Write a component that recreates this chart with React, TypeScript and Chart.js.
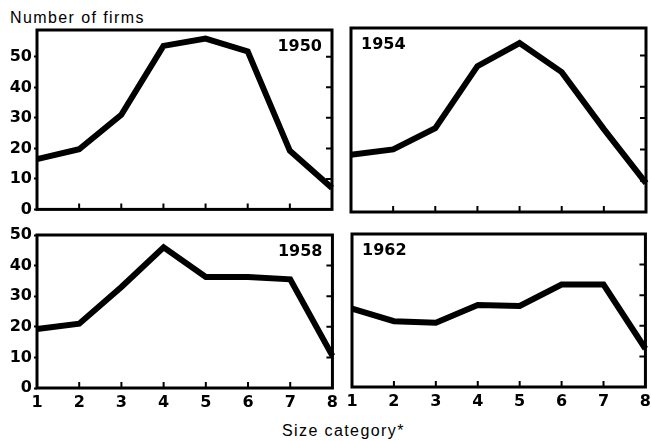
import React, { useEffect, useRef } from 'react';
import { Chart, registerables } from 'chart.js';

Chart.register(...registerables);

// Number of firms per size category, by census year
const sizeCategories = ['1', '2', '3', '4', '5', '6', '7', '8'];
const firms1950 = [16.5, 19.7, 31, 53.6, 56, 51.8, 19.2, 7];
const firms1954 = [18.3, 20, 26.8, 46.6, 54, 44.7, 26.5, 9.2];
const firms1958 = [19.3, 21, 33, 46, 36.3, 36.3, 35.5, 10.5];
const firms1962 = [25.6, 21.5, 21, 26.8, 26.5, 33.5, 33.5, 12.5];
const yTickValues = [0, 10, 20, 30, 40, 50];
const yAxisTitle = 'Number of firms';
const xAxisTitle = 'Size category*';

const TICK_FONT = { family: '"DejaVu Sans", sans-serif', size: 16, weight: 'bold' as const };
const TEXT_FONT = '"Liberation Sans", Arial, Helvetica, sans-serif';

type PanelSpec = {
  year: string;
  values: number[];
  left: number;
  top: number;
  right: number;
  bottom: number;
  yMax: number;
  showYLabels: boolean;
  showXLabels: boolean;
  yearSide: 'left' | 'right';
};

const panels: PanelSpec[] = [
  { year: '1950', values: firms1950, left: 37, top: 30, right: 332, bottom: 213, yMax: 58.8, showYLabels: true, showXLabels: false, yearSide: 'right' },
  { year: '1954', values: firms1954, left: 351, top: 28, right: 646, bottom: 212, yMax: 58.8, showYLabels: false, showXLabels: false, yearSide: 'left' },
  { year: '1958', values: firms1958, left: 37, top: 235, right: 333, bottom: 388, yMax: 50, showYLabels: true, showXLabels: true, yearSide: 'right' },
  { year: '1962', values: firms1962, left: 352, top: 234, right: 646, bottom: 387, yMax: 50, showYLabels: false, showXLabels: true, yearSide: 'left' },
];

const PAD_L = 37;
const PAD_T = 14;
const PAD_R = 10;
const PAD_B_PLAIN = 8;
const PAD_B_LABELS = 32;

function Panel({ spec }: { spec: PanelSpec }) {
  const ref = useRef<HTMLCanvasElement | null>(null);
  const padB = spec.showXLabels ? PAD_B_LABELS : PAD_B_PLAIN;
  const width = spec.right - spec.left + PAD_L + PAD_R;
  const height = spec.bottom - spec.top + PAD_T + padB;

  useEffect(() => {
    if (!ref.current) return;

    const framePlugin = {
      id: 'panelFrame',
      afterDraw(chart: any) {
        const { ctx, chartArea, scales } = chart;
        const { left, top, right, bottom } = chartArea;
        ctx.save();
        ctx.strokeStyle = '#000';
        ctx.lineWidth = 3;
        ctx.strokeRect(left, top, right - left, bottom - top);

        // inward tick marks on the right and bottom edges
        ctx.lineWidth = 2;
        ctx.beginPath();
        yTickValues.slice(1).forEach((v) => {
          const py = scales.y.getPixelForValue(v);
          ctx.moveTo(right, py);
          ctx.lineTo(right - 6, py);
        });
        sizeCategories.slice(1, -1).forEach((_, i) => {
          const px = scales.x.getPixelForValue(i + 1);
          ctx.moveTo(px, bottom);
          ctx.lineTo(px, bottom - 6);
        });
        ctx.stroke();

        // year caption
        ctx.fillStyle = '#000';
        ctx.font = `bold 16px ${TICK_FONT.family}`;
        ctx.textBaseline = 'middle';
        ctx.textAlign = spec.yearSide;
        ctx.fillText(spec.year, spec.yearSide === 'right' ? right - 10 : left + 10, top + 17);
        ctx.restore();
      },
    };

    const chart = new Chart(ref.current, {
      type: 'line',
      data: {
        labels: sizeCategories,
        datasets: [
          {
            data: spec.values,
            borderColor: '#000',
            borderWidth: 6,
            pointRadius: 0,
            tension: 0,
            borderJoinStyle: 'miter',
            borderCapStyle: 'butt',
          },
        ],
      },
      options: {
        animation: false,
        responsive: false,
        devicePixelRatio: 1,
        events: [],
        layout: {
          padding: {
            left: spec.showYLabels ? 0 : PAD_L,
            top: PAD_T,
            right: PAD_R,
            bottom: spec.showXLabels ? 0 : PAD_B_PLAIN,
          },
        },
        plugins: {
          legend: { display: false },
          tooltip: { enabled: false },
          title: { display: false },
        },
        scales: {
          x: {
            type: 'category',
            offset: false,
            display: spec.showXLabels,
            afterFit: (s: any) => {
              s.height = spec.showXLabels ? PAD_B_LABELS : 0;
            },
            ticks: {
              font: TICK_FONT,
              color: '#000',
              padding: 5,
              autoSkip: false,
              maxRotation: 0,
            },
            grid: { display: false, drawTicks: false, offset: false },
            border: { display: false },
          },
          y: {
            type: 'linear',
            min: 0,
            max: spec.yMax,
            display: spec.showYLabels,
            afterFit: (s: any) => {
              s.width = spec.showYLabels ? PAD_L : 0;
            },
            afterBuildTicks: (s: any) => {
              s.ticks = yTickValues.map((v) => ({ value: v }));
            },
            ticks: {
              font: TICK_FONT,
              color: '#000',
              padding: 2,
              includeBounds: false,
            },
            grid: {
              drawOnChartArea: false,
              drawTicks: true,
              tickLength: 3,
              tickWidth: 2,
              color: '#000',
            },
            border: { display: false },
          },
        },
      },
      plugins: [framePlugin],
    } as any);

    return () => chart.destroy();
  }, [spec]);

  return (
    <canvas
      ref={ref}
      width={width}
      height={height}
      style={{
        position: 'absolute',
        left: spec.left - PAD_L,
        top: spec.top - PAD_T,
        width,
        height,
      }}
    />
  );
}

export default function App() {
  const textStyle: React.CSSProperties = {
    position: 'absolute',
    fontFamily: TEXT_FONT,
    fontSize: 16,
    lineHeight: '16px',
    letterSpacing: '1.4px',
    color: '#000',
    whiteSpace: 'nowrap',
  };
  return (
    <div
      style={{
        position: 'absolute',
        left: 0,
        top: 0,
        width: 651,
        height: 441,
        background: '#fff',
        overflow: 'hidden',
      }}
    >
      <div style={{ ...textStyle, left: 10, top: 10 }}>{yAxisTitle}</div>
      {panels.map((p) => (
        <Panel key={p.year} spec={p} />
      ))}
      <div style={{ ...textStyle, left: 282, top: 423 }}>{xAxisTitle}</div>
    </div>
  );
}
